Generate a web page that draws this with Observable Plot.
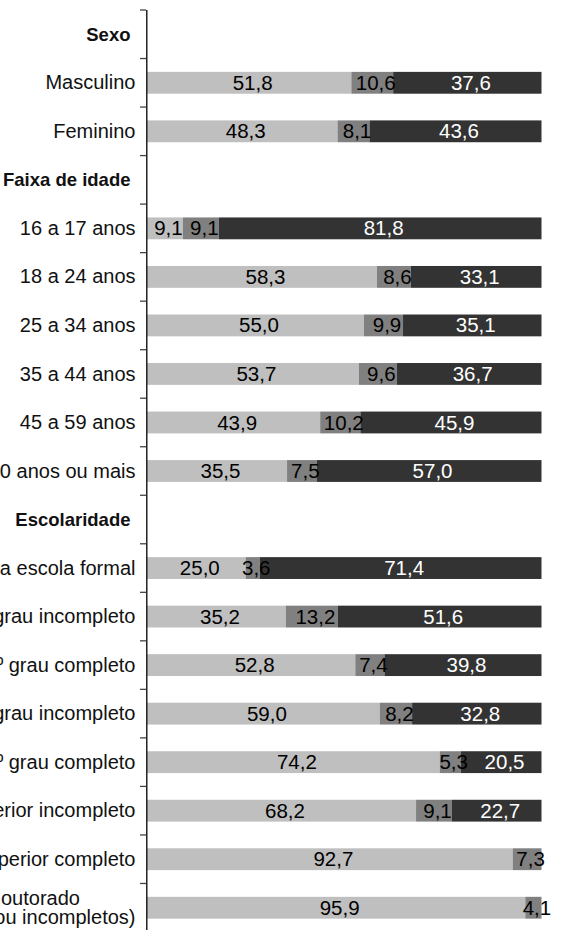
<!DOCTYPE html>
<html>
<head>
<meta charset="utf-8">
<script src="https://cdn.jsdelivr.net/npm/d3@7"></script>
<script src="https://cdn.jsdelivr.net/npm/@observablehq/plot@0.6"></script>
<style>
  html, body { margin: 0; padding: 0; background: #fff; }
  #chart svg { display: block; overflow: hidden; }
</style>
</head>
<body>
<div id="chart"></div>
<script>
const rows = [
  "Sexo", "Masculino", "Feminino",
  "Faixa de idade", "16 a 17 anos", "18 a 24 anos", "25 a 34 anos", "35 a 44 anos", "45 a 59 anos", "60 anos ou mais",
  "Escolaridade", "Nunca frequentou a escola formal", "1º grau incompleto", "1º grau completo",
  "2º grau incompleto", "2º grau completo", "Superior incompleto", "Superior completo",
  "Mestrado e doutorado\u00a0\u00a0\u00a0\u00a0\u00a0\u00a0\u00a0\u00a0\u00a0\u00a0\n(completos ou incompletos)"
];
const headers = ["Sexo", "Faixa de idade", "Escolaridade"];
const categories = ["Resposta A", "Resposta B", "Resposta C"];
const seriesA = [null, 51.8, 48.3, null, 9.1, 58.3, 55.0, 53.7, 43.9, 35.5, null, 25.0, 35.2, 52.8, 59.0, 74.2, 68.2, 92.7, 95.9];
const seriesB = [null, 10.6, 8.1, null, 9.1, 8.6, 9.9, 9.6, 10.2, 7.5, null, 3.6, 13.2, 7.4, 8.2, 5.3, 9.1, 7.3, 4.1];
const seriesC = [null, 37.6, 43.6, null, 81.8, 33.1, 35.1, 36.7, 45.9, 57.0, null, 71.4, 51.6, 39.8, 32.8, 20.5, 22.7, 0, 0];
const colors = ["#bfbfbf", "#808080", "#333333"];

const table = [];
rows.forEach((r, i) => {
  [seriesA, seriesB, seriesC].forEach((s, k) => {
    if (s[i] != null && s[i] > 0) table.push({row: r, cat: categories[k], value: s[i]});
  });
});
const fmt = v => v.toFixed(1).replace(".", ",");
const FONT = "Liberation Sans, Arial, sans-serif";
const isDark = d => d.cat === categories[2];

function boundaryTicks(index, scales, values, dimensions) {
  const y = scales.y;
  const bw = y.bandwidth ? y.bandwidth() : 0;
  const step = y.step ? y.step() : bw / 0.45;
  const g = d3.create("svg:g").attr("stroke", "#444").attr("stroke-width", 1.3);
  for (const r of rows) {
    const yb = y(r) + bw / 2 - step / 2;
    g.append("line")
      .attr("x1", dimensions.marginLeft - 7).attr("x2", dimensions.marginLeft - 1)
      .attr("y1", yb).attr("y2", yb);
  }
  return g.node();
}

const stackOpts = {x: "value", y: "row", z: "cat", order: categories};
const plot = Plot.plot({
  width: 565,
  height: 932,
  marginLeft: 147,
  marginRight: 23.5,
  marginTop: 10,
  marginBottom: 0,
  style: {fontFamily: FONT, background: "#fff"},
  x: {domain: [0, 100], axis: null},
  y: {domain: rows, paddingInner: 0.55, paddingOuter: 0.275, round: false, axis: null},
  color: {domain: categories, range: colors},
  marks: [
    Plot.barX(table, Plot.stackX({...stackOpts, fill: "cat"})),
    Plot.text(table, Plot.stackX({...stackOpts, text: d => isDark(d) ? "" : fmt(d.value), fill: "black", fontSize: 20.5, dx: 3})),
    Plot.text(table, Plot.stackX({...stackOpts, text: d => isDark(d) ? fmt(d.value) : "", fill: "white", fontSize: 20.5, dx: 3})),
    Plot.text(rows.filter(r => !headers.includes(r)), {y: d => d, text: d => d, frameAnchor: "left", textAnchor: "end", dx: -12, fontSize: 20, fill: "#111", lineHeight: 0.95}),
    Plot.text(headers, {y: d => d, text: d => d, frameAnchor: "left", textAnchor: "end", dx: -17, fontSize: 18.5, fontWeight: "bold", fill: "#111"}),
    Plot.ruleX([0], {stroke: "black", strokeWidth: 1.3, dx: -0.7}),
    boundaryTicks
  ]
});
document.getElementById("chart").appendChild(plot);
</script>
</body>
</html>
